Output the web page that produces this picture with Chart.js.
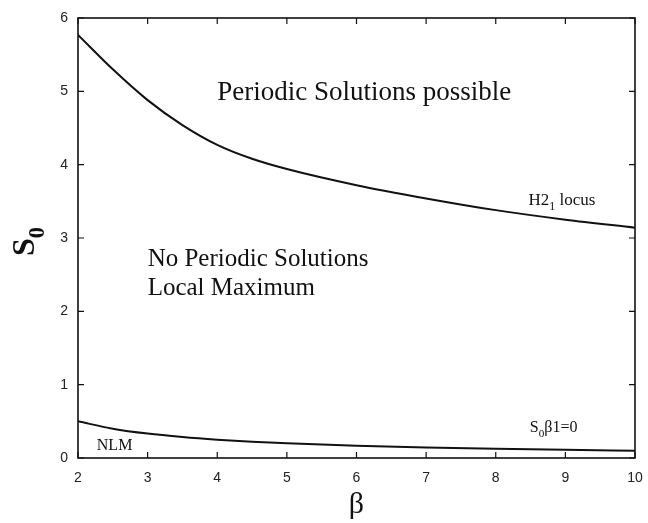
<!DOCTYPE html>
<html>
<head>
<meta charset="utf-8">
<script src="https://cdn.jsdelivr.net/npm/chart.js@4"></script>
<style>
  html, body { margin: 0; padding: 0; background: #fff; }
  #wrap { width: 648px; height: 523px; }
</style>
</head>
<body>
<div id="wrap"><canvas id="chart" width="648" height="523"></canvas></div>
<script>
// values
const betaValues = [2, 2.5, 3, 3.5, 4, 4.5, 5, 6, 7, 8, 9, 10];
const h2Locus = [5.77, 5.30, 4.88, 4.54, 4.27, 4.08, 3.94, 3.72, 3.54, 3.38, 3.25, 3.14];
const nlmBoundary = [0.50, 0.40, 0.333, 0.286, 0.25, 0.222, 0.20, 0.167, 0.143, 0.125, 0.111, 0.10];
const xTicks = [2, 3, 4, 5, 6, 7, 8, 9, 10];
const yTicks = [0, 1, 2, 3, 4, 5, 6];

// text placed in data coordinates [beta, S0]
const notes = [
  { at: [4.0, 4.88], size: 27, parts: [['Periodic Solutions possible']] },
  { at: [3.0, 2.62], size: 25, parts: [['No Periodic Solutions']] },
  { at: [3.0, 2.22], size: 25, parts: [['Local Maximum']] },
  { at: [8.47, 3.45], size: 17, parts: [['H2'], ['1', 1], [' locus']] },
  { at: [2.27, 0.105], size: 16, parts: [['NLM']] },
  { at: [8.49, 0.35], size: 16, parts: [['S'], ['0', 1], ['\u03b21=0']] }
];

function toPoints(ys) {
  return betaValues.map((b, i) => ({ x: b, y: ys[i] }));
}

function drawParts(ctx, x, y, size, parts, bold) {
  let cx = x;
  parts.forEach(p => {
    const sub = p[1];
    const fs = sub ? size * 0.7 : size;
    ctx.font = (bold ? 'bold ' : '') + fs + 'px "Liberation Serif", "Times New Roman", serif';
    ctx.fillText(p[0], cx, sub ? y + size * 0.3 : y);
    cx += ctx.measureText(p[0]).width;
  });
}

const framePlugin = {
  id: 'frame',
  afterDraw(chart) {
    const ctx = chart.ctx;
    const a = chart.chartArea;
    const xs = chart.scales.x, ys = chart.scales.y;
    ctx.save();
    ctx.strokeStyle = '#111';
    ctx.lineWidth = 1.6;
    ctx.strokeRect(a.left, a.top, a.right - a.left, a.bottom - a.top);
    ctx.lineWidth = 1.2;
    ctx.beginPath();
    xTicks.forEach(t => {
      const px = xs.getPixelForValue(t);
      ctx.moveTo(px, a.bottom); ctx.lineTo(px, a.bottom - 6);
      ctx.moveTo(px, a.top); ctx.lineTo(px, a.top + 6);
    });
    yTicks.forEach(t => {
      const py = ys.getPixelForValue(t);
      ctx.moveTo(a.left, py); ctx.lineTo(a.left + 6, py);
      ctx.moveTo(a.right, py); ctx.lineTo(a.right - 6, py);
    });
    ctx.stroke();

    ctx.fillStyle = '#111';
    ctx.textBaseline = 'alphabetic';
    ctx.textAlign = 'left';
    notes.forEach(n => {
      drawParts(ctx, xs.getPixelForValue(n.at[0]), ys.getPixelForValue(n.at[1]), n.size, n.parts, false);
    });

    // axis titles
    ctx.font = '30px "Liberation Serif", "Times New Roman", serif';
    ctx.textAlign = 'center';
    ctx.fillText('\u03b2', (a.left + a.right) / 2, 513);

    ctx.translate(34, 256);
    ctx.rotate(-Math.PI / 2);
    ctx.textAlign = 'left';
    drawParts(ctx, 0, 0, 32, [['S'], ['0', 1]], true);
    ctx.restore();
  }
};

new Chart(document.getElementById('chart'), {
  type: 'line',
  data: {
    datasets: [
      { label: 'H2_1 locus', data: toPoints(h2Locus), borderColor: '#111', borderWidth: 2, pointRadius: 0, cubicInterpolationMode: 'monotone', fill: false },
      { label: 'S0 beta 1 = 0', data: toPoints(nlmBoundary), borderColor: '#111', borderWidth: 2, pointRadius: 0, cubicInterpolationMode: 'monotone', fill: false }
    ]
  },
  options: {
    responsive: false,
    animation: false,
    layout: { padding: { top: 18, right: 13, left: 0, bottom: 0 } },
    plugins: { legend: { display: false }, tooltip: { enabled: false } },
    scales: {
      x: {
        type: 'linear', min: 2, max: 10,
        afterFit: s => { s.height = 65; s.paddingLeft = 0; s.paddingRight = 0; },
        grid: { display: false, drawTicks: false },
        border: { display: false },
        afterBuildTicks: s => { s.ticks = xTicks.map(v => ({ value: v })); },
        ticks: { padding: 12, color: '#222', font: { family: '"Liberation Sans", Arial, sans-serif', size: 14 } }
      },
      y: {
        type: 'linear', min: 0, max: 6,
        afterFit: s => { s.width = 78; s.paddingTop = 0; s.paddingBottom = 0; },
        grid: { display: false, drawTicks: false },
        border: { display: false },
        afterBuildTicks: s => { s.ticks = yTicks.map(v => ({ value: v })); },
        ticks: { padding: 10, color: '#222', font: { family: '"Liberation Sans", Arial, sans-serif', size: 14 } }
      }
    }
  },
  plugins: [framePlugin]
});
</script>
</body>
</html>
